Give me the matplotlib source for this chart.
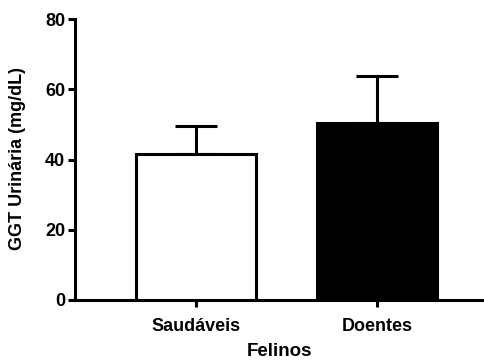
import matplotlib
matplotlib.use("Agg")
import matplotlib.pyplot as plt

categories = ["Saudáveis", "Doentes"]
means = [41.6, 50.3]
errors = [8.0, 13.5]
fill_colors = ["white", "black"]

plt.rcParams["font.family"] = ["Liberation Sans", "DejaVu Sans"]
plt.rcParams["font.weight"] = "bold"

fig = plt.figure(figsize=(4.85, 3.61), dpi=100)
ax = fig.add_axes([75 / 485, 61 / 361, 1 - 75 / 485, 281 / 361])

x = list(range(len(categories)))
lw = 2.2
ax.bar(x, means, width=0.66, color=fill_colors, edgecolor="black", linewidth=lw, zorder=3)
ax.errorbar(x, means, yerr=[[0] * len(errors), errors], fmt="none", ecolor="black",
            elinewidth=lw, capsize=15, capthick=lw, zorder=2)

ax.set_xlim(-0.668, 1.597)
ax.set_ylim(0, 80)
ax.set_yticks([0, 20, 40, 60, 80])
ax.set_xticks(x)
ax.set_xticklabels(categories, fontsize=13, fontweight="bold")
ax.tick_params(axis="y", labelsize=13, width=lw, length=5, pad=2)
ax.tick_params(axis="x", width=lw, length=5, pad=8)
for lab in ax.get_yticklabels():
    lab.set_fontweight("bold")

ax.spines["top"].set_visible(False)
ax.spines["right"].set_visible(False)
ax.spines["left"].set_linewidth(lw)
ax.spines["bottom"].set_linewidth(lw)

ax.set_ylabel("GGT Urinária (mg/dL)", fontsize=13, fontweight="bold")
ax.yaxis.set_label_coords(-(75 - 18) / 410, (300 - 159) / 281)
ax.set_xlabel("Felinos", fontsize=13.5, fontweight="bold")
ax.xaxis.set_label_coords((280 - 75) / 410, -(352 - 300) / 281)
ax.xaxis.label.set_va("center")
ax.yaxis.label.set_va("center")

fig.savefig("out.png", dpi=100)
